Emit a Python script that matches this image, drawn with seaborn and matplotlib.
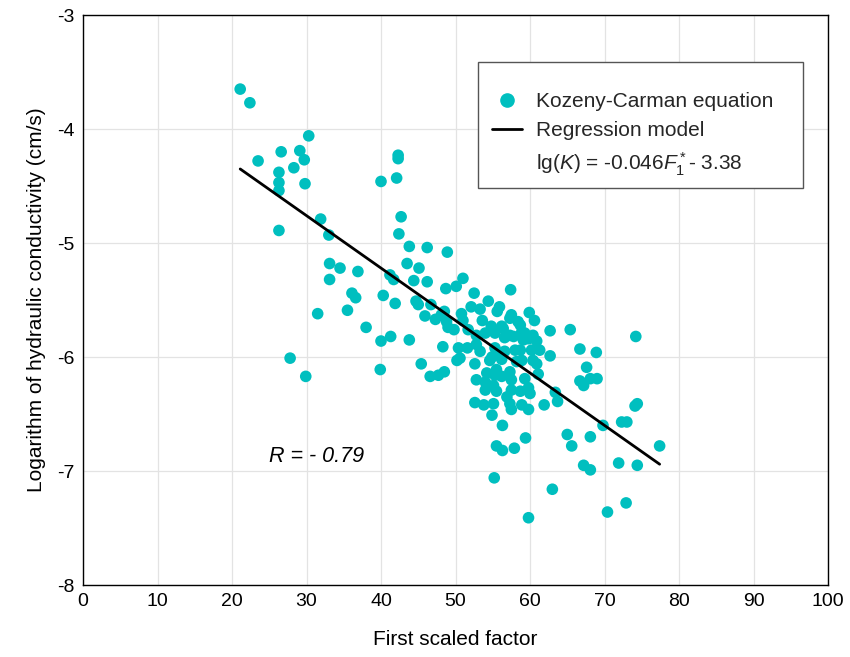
import numpy as np
import pandas as pd
import matplotlib
matplotlib.use("Agg")
import matplotlib.pyplot as plt
from matplotlib.lines import Line2D
from matplotlib.patches import Rectangle
import seaborn as sns

# ---- data ----
factor = [
    21.1, 22.4, 23.5, 26.6, 29.1, 29.7, 30.3, 28.3, 26.3, 26.3, 26.3, 29.8, 26.3, 31.9, 33.0,
    33.1, 34.5, 33.1, 31.5, 27.8, 29.9, 35.5, 36.9, 36.1, 36.6, 38.0, 40.0, 41.3, 39.9, 40.3,
    41.9, 41.2, 41.7,
    40.0, 42.1, 42.3, 42.3, 42.7, 42.4, 43.8, 46.2, 48.9, 43.5, 45.1, 44.4, 46.2, 44.7, 45.0,
    46.7, 45.9, 47.3, 43.8, 45.4, 46.6, 47.7, 48.5,
    51.0, 50.1, 48.7, 52.5, 57.4, 54.4, 55.9, 55.6, 59.9, 60.6, 52.1, 53.3, 50.8, 48.1, 48.5,
    48.8, 51.0, 53.6, 54.8, 56.2, 57.3, 58.4, 57.5, 49.0, 49.8, 51.7, 52.8, 54.0, 55.3, 56.4,
    57.3, 58.9, 59.8, 60.9, 58.7, 59.3, 60.4, 59.1, 56.6, 57.8, 62.7, 65.4, 48.3, 50.4, 51.6,
    52.8, 53.3, 55.3, 54.9, 56.2, 56.6, 58.0, 58.2, 60.2, 61.3, 58.7, 60.4, 60.9, 62.7, 66.7,
    68.9, 50.2, 50.6, 52.6, 54.6, 56.2, 58.9, 54.2, 55.5, 57.3, 55.3, 52.8, 54.0, 55.1, 56.2,
    57.5, 59.3, 61.1, 54.0, 55.5, 57.5, 58.7, 59.8, 56.9, 60.0, 52.6, 53.8, 55.1, 57.3, 58.9,
    59.8, 54.9, 57.5, 61.9, 63.4, 63.7, 67.6, 66.7, 67.2, 68.1, 69.0, 69.8, 72.3, 73.0, 74.1,
    74.4, 74.2, 77.4, 56.3, 59.4, 55.5, 56.3, 57.9, 65.0, 65.6, 68.1, 67.2, 68.1, 71.9, 74.4,
    55.2, 63.0, 70.4, 72.9, 59.8,
]
log_k = [
    -3.65, -3.77, -4.28, -4.20, -4.19, -4.27, -4.06, -4.34, -4.38, -4.47, -4.54, -4.48, -4.89, -4.79, -4.93,
    -5.18, -5.22, -5.32, -5.62, -6.01, -6.17, -5.59, -5.25, -5.44, -5.48, -5.74, -5.86, -5.82, -6.11, -5.46,
    -5.53, -5.28, -5.32,
    -4.46, -4.43, -4.23, -4.26, -4.77, -4.92, -5.03, -5.04, -5.08, -5.18, -5.22, -5.33, -5.34, -5.51, -5.54,
    -5.54, -5.64, -5.67, -5.85, -6.06, -6.17, -6.16, -6.13,
    -5.31, -5.38, -5.40, -5.44, -5.41, -5.51, -5.56, -5.60, -5.61, -5.68, -5.56, -5.58, -5.62, -5.63, -5.60,
    -5.69, -5.68, -5.68, -5.73, -5.73, -5.66, -5.69, -5.63, -5.74, -5.76, -5.76, -5.81, -5.79, -5.79, -5.75,
    -5.81, -5.78, -5.84, -5.86, -5.72, -5.79, -5.81, -5.85, -5.83, -5.82, -5.77, -5.76, -5.91, -5.92, -5.92,
    -5.89, -5.95, -5.92, -6.00, -5.98, -5.95, -5.94, -6.04, -5.94, -5.94, -5.94, -6.03, -6.06, -5.99, -5.93,
    -5.96, -6.03, -6.01, -6.06, -6.03, -6.02, -6.03, -6.14, -6.11, -6.13, -6.16, -6.20, -6.22, -6.25, -6.17,
    -6.20, -6.19, -6.15, -6.29, -6.30, -6.29, -6.30, -6.27, -6.35, -6.32, -6.40, -6.42, -6.41, -6.41, -6.42,
    -6.46, -6.51, -6.46, -6.42, -6.31, -6.39, -6.09, -6.21, -6.25, -6.19, -6.19, -6.60, -6.57, -6.57, -6.43,
    -6.41, -5.82, -6.78, -6.60, -6.71, -6.78, -6.82, -6.80, -6.68, -6.78, -6.70, -6.95, -6.99, -6.93, -6.95,
    -7.06, -7.16, -7.36, -7.28, -7.41,
]
slope = -0.046
intercept = -3.38
x_ticks = [0, 10, 20, 30, 40, 50, 60, 70, 80, 90, 100]
y_ticks = [-8, -7, -6, -5, -4, -3]

df = pd.DataFrame({"factor": factor, "logk": log_k})
x_line = np.array([min(factor), max(factor)])
line_df = pd.DataFrame({"factor": x_line, "logk": slope * x_line + intercept})

sns.set_theme(style="whitegrid")
plt.rcParams["font.family"] = ["Liberation Sans", "DejaVu Sans"]
plt.rcParams["mathtext.fontset"] = "custom"
plt.rcParams["mathtext.rm"] = "Liberation Sans"
plt.rcParams["mathtext.it"] = "Liberation Sans:italic"

fig = plt.figure(figsize=(8.5, 6.57), dpi=100)
ax = fig.add_axes([83 / 850, 1 - 585 / 657, 745 / 850, 570 / 657])

teal = "#00BFBF"
sns.scatterplot(data=df, x="factor", y="logk", ax=ax, color=teal, s=70,
                edgecolor="none", linewidth=0, zorder=3, legend=False)
sns.lineplot(data=line_df, x="factor", y="logk", ax=ax, color="black",
             linewidth=2.0, zorder=4, legend=False)

ax.set_xlim(0, 100)
ax.set_ylim(-8, -3)
ax.set_xticks(x_ticks)
ax.set_yticks(y_ticks)
ax.set_xticklabels([str(t) for t in x_ticks])
ax.set_yticklabels([str(t) for t in y_ticks])
ax.tick_params(axis="both", labelsize=14, colors="black", direction="in",
               length=4, width=0.8, pad=6)
ax.grid(True, color="#e3e3e3", linewidth=0.9)
for sp in ax.spines.values():
    sp.set_color("black")
    sp.set_linewidth(1.0)

ax.set_xlabel("First scaled factor", fontsize=15, labelpad=14, color="black")
ax.set_ylabel("Logarithm of hydraulic conductivity (cm/s)", fontsize=15,
              labelpad=8, color="black")

ax.text(25.0, -6.87, "R = - 0.79", fontsize=15.5, style="italic",
        ha="left", va="center", color="black")

# legend frame
ax.add_patch(Rectangle((0.530, 0.696), 0.436, 0.2215, transform=ax.transAxes,
                       facecolor="white", edgecolor="#555555", linewidth=1.0,
                       zorder=5))

handles = [
    Line2D([], [], marker="o", linestyle="none", color=teal, markersize=9.5),
    Line2D([], [], color="black", linewidth=2.0),
    Line2D([], [], linestyle="none", marker=None),
]
labels = ["Kozeny-Carman equation", "Regression model",
          r"lg($K$) = -0.046$F_1^*$- 3.38"]
leg = ax.legend(handles, labels, loc="upper left",
                bbox_to_anchor=(0.549, 0.865), fontsize=15,
                frameon=False, borderpad=0, labelspacing=0.5,
                handlelength=1.45, handletextpad=0.65, borderaxespad=0)
leg.set_zorder(6)

fig.savefig("out.png", dpi=100)
